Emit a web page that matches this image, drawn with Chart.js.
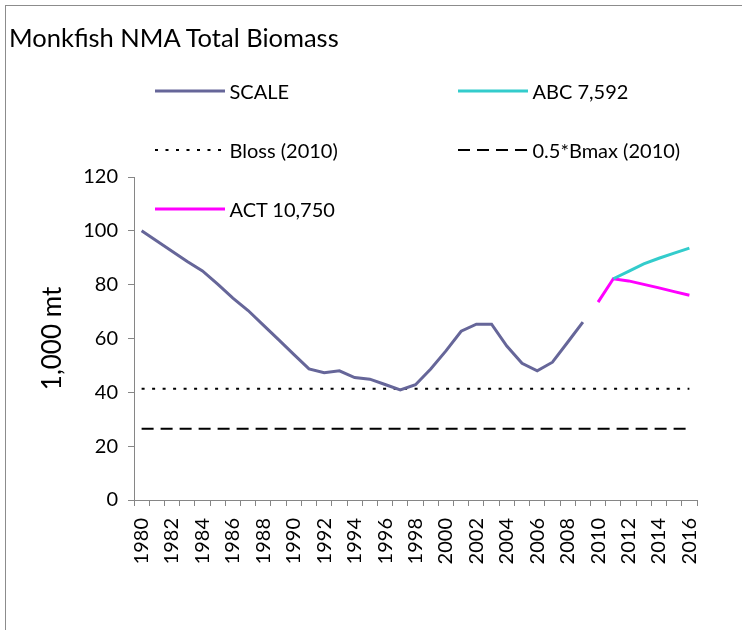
<!DOCTYPE html>
<html>
<head>
<meta charset="utf-8">
<script src="https://cdn.jsdelivr.net/npm/chart.js@4/dist/chart.umd.min.js"></script>
<style>
  html, body { margin: 0; padding: 0; background: #fff; }
  #wrap { position: relative; width: 742px; height: 630px; overflow: hidden; font-family: Lato, "Open Sans", sans-serif; }
  #frame { position: absolute; left: 5px; top: 5px; width: 900px; height: 900px; border: 1px solid #8c8c8c; }
  #title { position: absolute; left: 9px; top: 25px; font-size: 25.5px; line-height: 1; color: #000; white-space: nowrap; }
  .key { position: absolute; height: 20px; display: flex; align-items: center; font-size: 20px; line-height: 20px; color: #000; white-space: nowrap; }
  .key svg { margin-right: 4.5px; }
  #chart { position: absolute; left: 0; top: 0; }
</style>
</head>
<body>
<div id="wrap">
  <div id="frame"></div>
  <canvas id="chart" width="742" height="630"></canvas>
  <div id="title">Monkfish NMA Total Biomass</div>
  <div id="legend"></div>
</div>
<script>
// categories
const years = ["1980","1981","1982","1983","1984","1985","1986","1987","1988","1989",
  "1990","1991","1992","1993","1994","1995","1996","1997","1998","1999",
  "2000","2001","2002","2003","2004","2005","2006","2007","2008","2009",
  "2010","2011","2012","2013","2014","2015","2016"];

// SCALE model biomass, 1980-2009 (1,000 mt)
const scaleYears = years.slice(0, 30);
const scaleValues = [100.0, 96.2, 92.4, 88.6, 85.1, 80.2, 75.0, 70.4, 65.0, 59.6,
  54.1, 48.7, 47.3, 48.0, 45.5, 44.9, 42.9, 40.9, 42.8, 48.7,
  55.4, 62.7, 65.3, 65.3, 57.2, 50.8, 48.0, 51.2, 58.6, 66.1];

// projections
const actYears = ["2010","2011","2012","2013","2014","2015","2016"];
const actValues = [73.5, 82.2, 81.4, 80.1, 78.8, 77.4, 76.1];
const abcYears = ["2011","2012","2013","2014","2015","2016"];
const abcValues = [82.2, 84.9, 87.7, 89.8, 91.7, 93.6];

// reference points, drawn across the full year range
const refYears = ["1980", "2016"];
const blossValues = [41.3, 41.3];
const bmaxValues = [26.5, 26.5];

// y ticks
const yMin = 0, yMax = 120, yStep = 20;

const seriesNames = ["SCALE", "ABC 7,592", "Bloss (2010)", "0.5*Bmax (2010)", "ACT 10,750"];
const colors = { scale: "#666699", abc: "#33cccc", act: "#ff00ff", ref: "#000000" };

const pairs = (xs, ys) => xs.map((x, i) => ({ x, y: ys[i] }));
const FONT = "Lato, 'Open Sans', sans-serif";

const lineBase = { pointRadius: 0, pointHoverRadius: 0, tension: 0, fill: false, borderCapStyle: "butt" };

const datasets = [
  { ...lineBase, label: seriesNames[0], data: pairs(scaleYears, scaleValues), borderColor: colors.scale, borderWidth: 3 },
  { ...lineBase, label: seriesNames[1], data: pairs(abcYears, abcValues), borderColor: colors.abc, borderWidth: 3 },
  { ...lineBase, label: seriesNames[2], data: pairs(refYears, blossValues), borderColor: colors.ref, borderWidth: 2, borderDash: [3, 7.5] },
  { ...lineBase, label: seriesNames[3], data: pairs(refYears, bmaxValues), borderColor: colors.ref, borderWidth: 2, borderDash: [12, 7] },
  { ...lineBase, label: seriesNames[4], data: pairs(actYears, actValues), borderColor: colors.act, borderWidth: 3 },
];

const axisGray = "#868686";

const chart = new Chart(document.getElementById("chart"), {
  type: "line",
  data: { labels: years, datasets },
  options: {
    responsive: false,
    animation: false,
    events: [],
    layout: { padding: { left: 37, right: 45, top: 177, bottom: 0 } },
    plugins: { legend: { display: false }, title: { display: false }, tooltip: { enabled: false } },
    scales: {
      x: {
        type: "category",
        offset: true,
        grid: { display: true, offset: true, drawOnChartArea: false, drawTicks: true, tickLength: 6, color: axisGray },
        border: { display: true, color: axisGray, width: 1 },
        ticks: {
          autoSkip: false, minRotation: 90, maxRotation: 90, padding: 12, color: "#000",
          font: { family: FONT, size: 20 },
          callback: function (v, i) { return i % 2 === 0 ? this.getLabelForValue(v) : ""; },
        },
        afterFit: (s) => { s.height = 130; },
      },
      y: {
        min: yMin, max: yMax,
        grid: { display: true, drawOnChartArea: false, drawTicks: true, tickLength: 6, color: axisGray },
        border: { display: true, color: axisGray, width: 1 },
        ticks: { stepSize: yStep, padding: 10, color: "#000", font: { family: FONT, size: 20 } },
        title: { display: true, text: "1,000 mt", color: "#000", font: { family: FONT, size: 26 }, padding: { top: 0, bottom: 0 } },
        afterFit: (s) => { s.width = 134 - 37; },
      },
    },
  },
});

// legend laid out in two columns like the original
const legendSlots = [
  { left: 155, top: 91 }, { left: 458, top: 91 },
  { left: 155, top: 150 }, { left: 458, top: 150 },
  { left: 155, top: 209 },
];
const legendEl = document.getElementById("legend");
chart.data.datasets.forEach((ds, i) => {
  const slot = legendSlots[i];
  const item = document.createElement("div");
  item.className = "key";
  item.style.left = slot.left + "px";
  item.style.top = (slot.top - 10) + "px";
  const dash = ds.borderDash ? ds.borderDash.join(",") : "none";
  item.innerHTML =
    `<svg width="70" height="6"><line x1="0" y1="3" x2="70" y2="3" stroke="${ds.borderColor}" ` +
    `stroke-width="${ds.borderWidth}" stroke-dasharray="${dash}"/></svg><span>${ds.label}</span>`;
  legendEl.appendChild(item);
});
</script>
</body>
</html>
